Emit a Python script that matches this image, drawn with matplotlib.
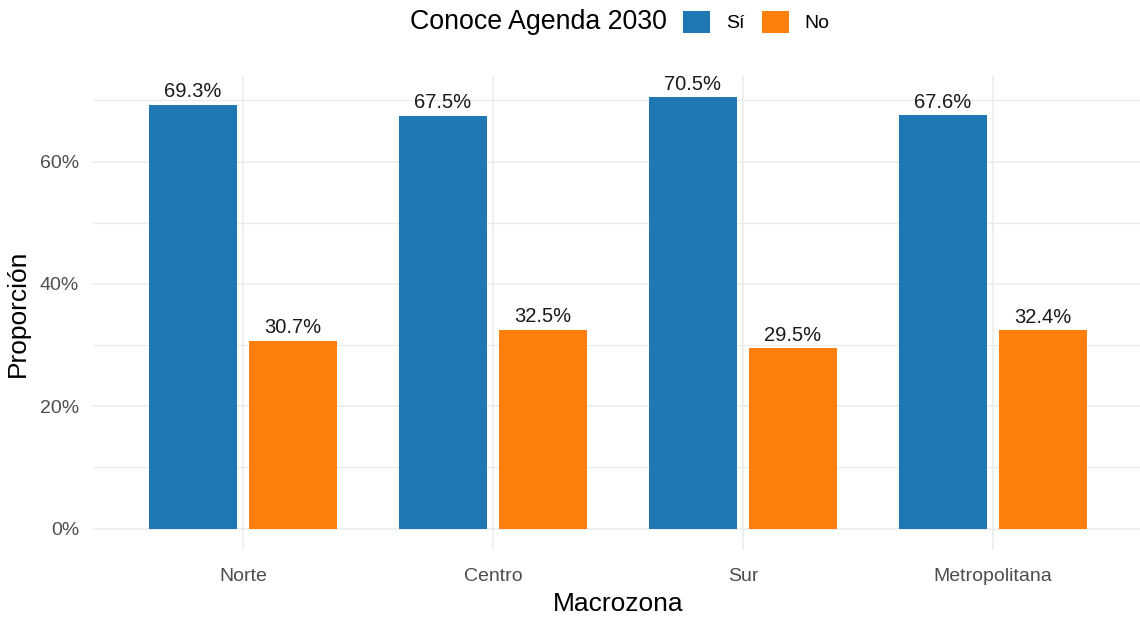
import numpy as np
import matplotlib
matplotlib.use("Agg")
import matplotlib.pyplot as plt
from matplotlib.patches import Patch

plt.rcParams['font.family'] = ['Liberation Sans', 'DejaVu Sans']

# === Data ===
zonas = ['Norte', 'Centro', 'Sur', 'Metropolitana']
si_vals = [0.693, 0.675, 0.705, 0.676]
no_vals = [0.307, 0.325, 0.295, 0.324]
grupos = ['Sí', 'No']
colores = ['#1F77B4', '#FF7F0E']
y_ticks = [0.0, 0.2, 0.4, 0.6]
y_tick_labels = ['0%', '20%', '40%', '60%']

W, H = 1140, 620
fig = plt.figure(figsize=(W / 100, H / 100), dpi=100)
ax = fig.add_axes([93 / W, 1 - 550 / H, 1050 / W, 474 / H])

x = np.arange(len(zonas))
dodge = 0.2
bar_w = 0.35
grid_col = '#EBEBEB'

for i, (vals, col) in enumerate(zip([si_vals, no_vals], colores)):
    pos = x + (i * 2 - 1) * dodge
    bars = ax.bar(pos, vals, width=bar_w, color=col, zorder=3)
    for b, v in zip(bars, vals):
        # label above each bar (clipped by the panel like in the original)
        ax.annotate(f'{v * 100:.1f}%', (b.get_x() + b.get_width() / 2, v),
                    xytext=(0, 5.5), textcoords='offset points',
                    ha='center', va='baseline', fontsize=14.5,
                    color='#1A1A1A', zorder=4, clip_on=True)

ax.set_xlim(-0.6, len(zonas) - 0.4)
ax.set_ylim(-0.035, 0.74)

ax.set_xticks(x)
ax.set_xticklabels(zonas)
ax.set_yticks(y_ticks)
ax.set_yticklabels(y_tick_labels)
ax.set_yticks([0.1, 0.3, 0.5, 0.7], minor=True)

ax.tick_params(axis='both', which='both', length=0, labelsize=14, labelcolor='#4D4D4D')
ax.tick_params(axis='y', pad=10)
ax.tick_params(axis='x', pad=13)

ax.grid(True, which='major', color=grid_col, linewidth=1.1, zorder=0)
ax.grid(True, which='minor', axis='y', color=grid_col, linewidth=0.9, zorder=0)
ax.set_axisbelow(True)
for s in ax.spines.values():
    s.set_visible(False)

ax.set_xlabel('Macrozona', fontsize=19, labelpad=5)
ax.set_ylabel('Proporción', fontsize=19, labelpad=7)

# legend on top: title to the left of the keys
fig.text(410 / W, 1 - 22 / H, 'Conoce Agenda 2030', fontsize=19.3,
         ha='left', va='center')
handles = [Patch(facecolor=c, edgecolor='none') for c in colores]
fig.legend(handles, grupos, loc='center left', bbox_to_anchor=(683 / W, 1 - 22 / H),
           ncol=2, frameon=False, fontsize=14, handlelength=1.4, handleheight=1.4,
           handletextpad=0.8, columnspacing=0.9, borderpad=0, borderaxespad=0)

fig.savefig('out.png', dpi=100)
